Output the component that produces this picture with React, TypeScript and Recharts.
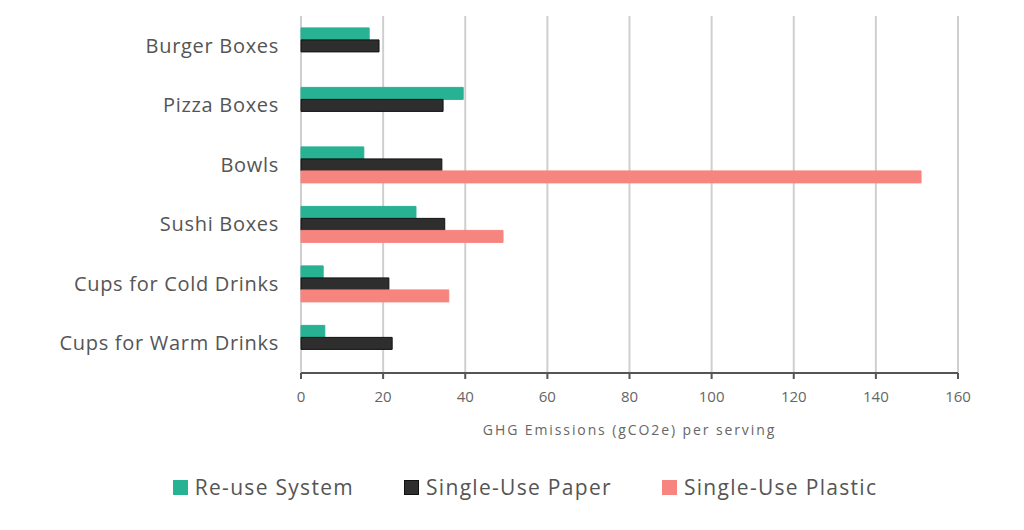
import { BarChart, Bar, XAxis, YAxis, CartesianGrid, Legend } from 'recharts';

const categories = [
  'Burger Boxes',
  'Pizza Boxes',
  'Bowls',
  'Sushi Boxes',
  'Cups for Cold Drinks',
  'Cups for Warm Drinks',
];
const reuseSystem = [16.6, 39.5, 15.3, 28, 5.4, 5.8];
const singleUsePaper = [19, 34.6, 34.3, 35, 21.4, 22.2];
const singleUsePlastic = [null, null, 151, 49.2, 36, null];
const xTicks = [0, 20, 40, 60, 80, 100, 120, 140, 160];

const SERIES = [
  { key: 'reuse', name: 'Re-use System', color: '#27b293', stroke: '#27b293' },
  { key: 'paper', name: 'Single-Use Paper', color: '#2e2e2e', stroke: '#111111' },
  { key: 'plastic', name: 'Single-Use Plastic', color: '#f7857f', stroke: '#f7857f' },
];

const FONT = '"Open Sans", sans-serif';

function LegendContent() {
  return (
    <div style={{ display: 'flex', justifyContent: 'center', gap: 50, fontFamily: FONT, fontSize: 21, letterSpacing: 1.3, color: '#555', height: 30, alignItems: 'center', paddingLeft: 92 }}>
      {SERIES.map((s) => (
        <div key={s.key} style={{ display: 'flex', alignItems: 'center' }}>
          <span style={{ display: 'inline-block', width: 13, height: 13, background: s.color, marginRight: 7, border: `1px solid ${s.stroke}` }} />
          {s.name}
        </div>
      ))}
    </div>
  );
}

export default function App() {
  const data = categories.map((name, i) => ({
    name,
    reuse: reuseSystem[i],
    paper: singleUsePaper[i],
    plastic: singleUsePlastic[i],
  }));

  return (
    <div style={{ position: 'absolute', left: 0, top: 0, width: 1024, height: 530, background: '#fff' }}>
      <BarChart
        width={1024}
        height={530}
        data={data}
        layout="vertical"
        margin={{ top: 16, right: 66, bottom: 28, left: 0 }}
        barCategoryGap="20%"
        barGap={0}
      >
        <CartesianGrid horizontal={false} stroke="#cfcfcf" strokeWidth={2} />
        <XAxis
          type="number"
          domain={[0, 160]}
          ticks={xTicks}
          height={99}
          axisLine={{ stroke: '#555', strokeWidth: 2 }}
          tickLine={{ stroke: '#555', strokeWidth: 2 }}
          tickSize={6}
          tick={{ fill: '#666', fontSize: 15, fontFamily: FONT }}
          tickMargin={12}
          label={{ value: 'GHG Emissions (gCO2e) per serving', position: 'insideTop', offset: 52, fill: '#666', fontSize: 14, fontFamily: FONT, letterSpacing: 1.9 }}
        />
        <YAxis
          type="category"
          dataKey="name"
          width={301}
          axisLine={false}
          tickLine={false}
          tickMargin={16}
          tick={{ fill: '#555', fontSize: 20, fontFamily: FONT, letterSpacing: 0.7 }}
        />
        <Legend verticalAlign="bottom" content={<LegendContent />} />
        {SERIES.map((s) => (
          <Bar
            key={s.key}
            dataKey={s.key}
            name={s.name}
            fill={s.color}
            stroke={s.stroke}
            strokeWidth={1}
            isAnimationActive={false}
          />
        ))}
      </BarChart>
    </div>
  );
}
